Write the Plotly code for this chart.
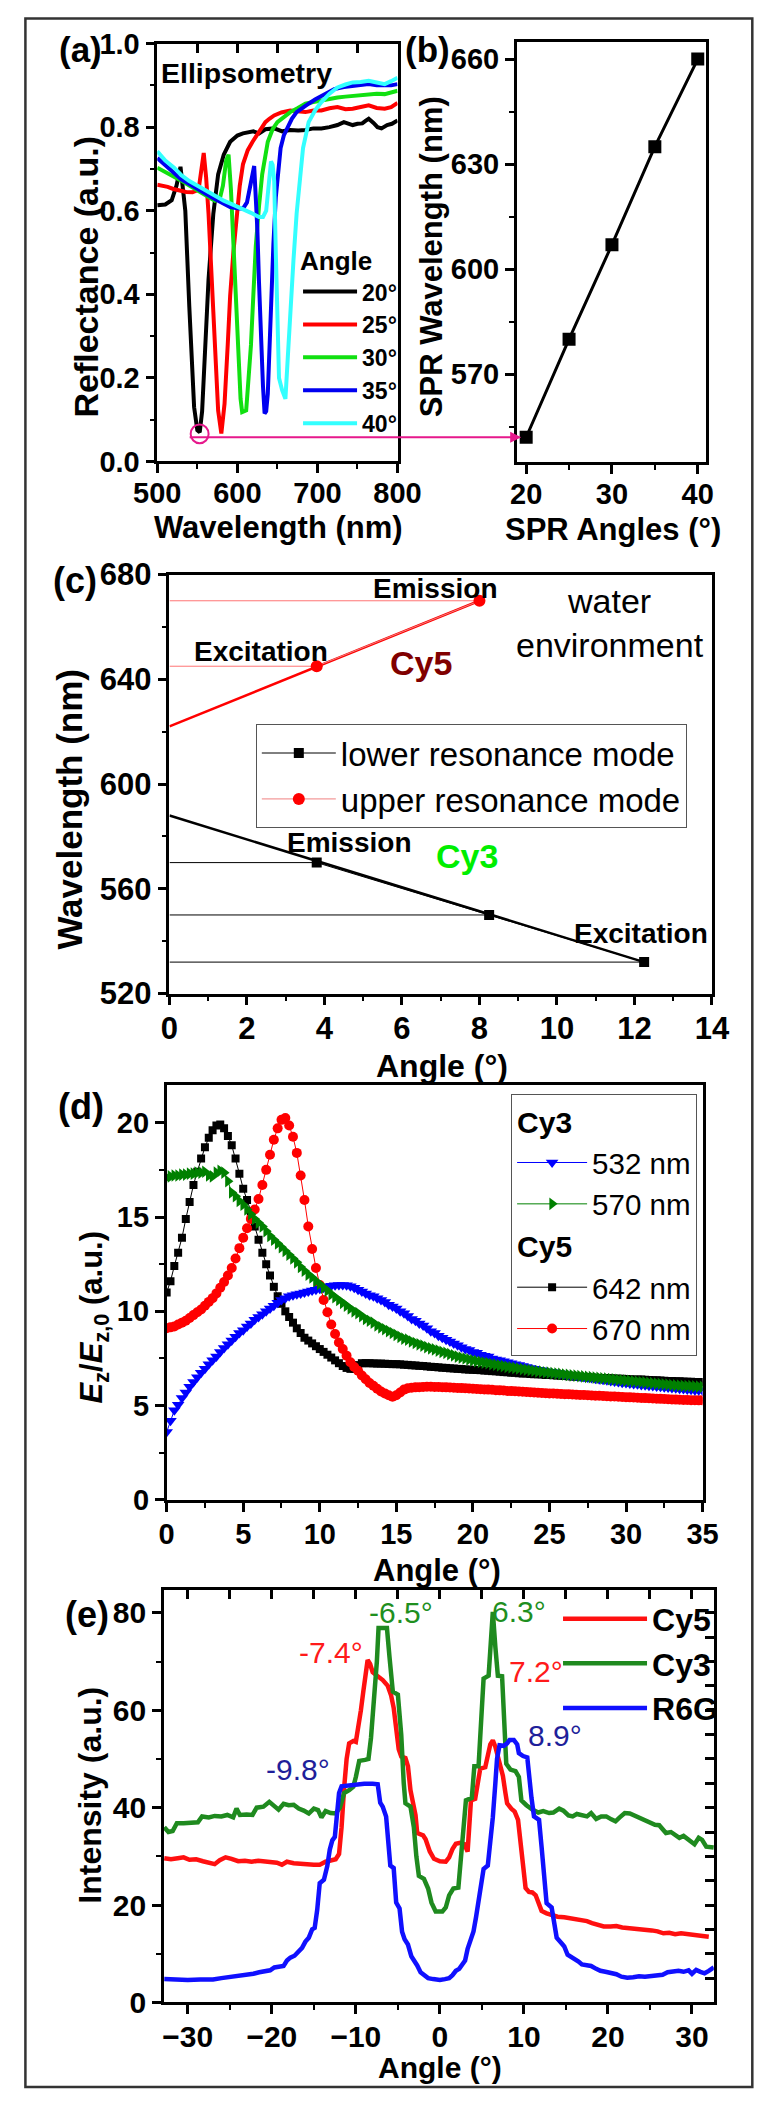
import plotly.graph_objects as go

W, H = 781, 2108
FONT = "Liberation Sans, Arial, Helvetica, sans-serif"

# ---------------- (a) Ellipsometry reflectance spectra ----------------
A_LABELS = ["20°", "25°", "30°", "35°", "40°"]
A_WL_20 = [500, 510, 518, 524, 529, 532, 535, 540, 546, 550, 553, 556, 559, 564, 570, 576, 583, 591, 600, 607,
           620, 627, 635, 646, 656, 666, 676, 685, 695, 705, 715, 725, 733, 740, 744, 750, 756, 760, 764, 770,
           775, 780, 787, 793, 800]
A_R_20 = [0.613, 0.615, 0.625, 0.66, 0.705, 0.66, 0.6, 0.37, 0.13, 0.075, 0.07, 0.12, 0.25, 0.436, 0.593, 0.687,
          0.734, 0.765, 0.78, 0.785, 0.79, 0.785, 0.795, 0.797, 0.79, 0.793, 0.792, 0.793, 0.797, 0.797, 0.8,
          0.805, 0.812, 0.806, 0.805, 0.808, 0.809, 0.815, 0.82, 0.81, 0.8, 0.797, 0.805, 0.808, 0.816]
A_WL_25 = [500, 507, 513, 520, 529, 536, 544, 549, 552, 555, 558, 561, 564, 570, 576, 580, 584, 588, 591, 595,
           599, 603, 607, 613, 619, 627, 635, 640, 646, 655, 666, 675, 685, 695, 705, 715, 725, 735, 744, 754,
           764, 774, 784, 792, 800]
A_R_25 = [0.662, 0.66, 0.657, 0.652, 0.648, 0.645, 0.644, 0.648, 0.656, 0.7, 0.738, 0.68, 0.593, 0.358, 0.122,
          0.067, 0.138, 0.28, 0.397, 0.5, 0.593, 0.66, 0.711, 0.745, 0.765, 0.79, 0.812, 0.82, 0.828, 0.835, 0.84,
          0.838, 0.836, 0.84, 0.84, 0.845, 0.848, 0.843, 0.844, 0.848, 0.852, 0.846, 0.844, 0.848, 0.858]
A_WL_30 = [500, 510, 521, 530, 540, 550, 560, 566, 572, 578, 582, 586, 589, 592, 595, 598, 601, 604, 606, 611,
           614, 617, 620, 623, 627, 631, 638, 644, 650, 658, 666, 675, 685, 695, 705, 715, 725, 735, 744, 754,
           764, 774, 784, 792, 800]
A_R_30 = [0.703, 0.693, 0.683, 0.672, 0.66, 0.648, 0.636, 0.63, 0.624, 0.628, 0.66, 0.72, 0.734, 0.65, 0.515,
          0.4, 0.279, 0.15, 0.118, 0.122, 0.2, 0.279, 0.4, 0.515, 0.61, 0.687, 0.765, 0.795, 0.812, 0.825, 0.836,
          0.845, 0.856, 0.86, 0.864, 0.868, 0.871, 0.873, 0.875, 0.877, 0.879, 0.88, 0.879, 0.882, 0.887]
A_WL_35 = [500, 510, 521, 530, 540, 550, 560, 568, 576, 584, 591, 600, 607, 612, 615, 618, 621, 623, 625, 627,
           629, 632, 634, 636, 638, 640, 642, 645, 648, 651, 654, 658, 662, 668, 674, 682, 689, 697, 705, 713,
           721, 733, 744, 754, 764, 774, 784, 792, 800]
A_R_35 = [0.726, 0.71, 0.691, 0.675, 0.664, 0.652, 0.64, 0.632, 0.624, 0.615, 0.609, 0.606, 0.605, 0.62, 0.648,
          0.68, 0.707, 0.63, 0.554, 0.43, 0.318, 0.18, 0.115, 0.12, 0.162, 0.28, 0.397, 0.52, 0.632, 0.7, 0.75,
          0.78, 0.797, 0.82, 0.836, 0.848, 0.856, 0.866, 0.875, 0.884, 0.891, 0.896, 0.899, 0.901, 0.903, 0.9,
          0.9, 0.9, 0.903]
A_WL_40 = [500, 510, 521, 530, 540, 550, 560, 570, 583, 595, 607, 617, 627, 632, 636, 639, 642, 644, 646, 648,
           650, 652, 656, 660, 663, 666, 670, 674, 678, 682, 686, 689, 697, 705, 715, 725, 735, 744, 754, 764,
           774, 784, 792, 800]
A_R_40 = [0.742, 0.72, 0.703, 0.685, 0.671, 0.66, 0.648, 0.636, 0.624, 0.614, 0.605, 0.595, 0.585, 0.585, 0.6,
          0.66, 0.718, 0.71, 0.671, 0.5, 0.3, 0.2, 0.17, 0.15, 0.25, 0.358, 0.48, 0.593, 0.68, 0.75, 0.785, 0.812,
          0.84, 0.86, 0.88, 0.895, 0.902, 0.907, 0.908, 0.911, 0.907, 0.903, 0.91, 0.918]
A_WL = [A_WL_20, A_WL_25, A_WL_30, A_WL_35, A_WL_40]
A_R = [A_R_20, A_R_25, A_R_30, A_R_35, A_R_40]
A_COLORS = ["#000000", "#ff0000", "#11e011", "#0000f0", "#33ffff"]
A_SPR_MIN = (552.9, 0.066)  # circled 20° resonance minimum

# ---------------- (b) SPR wavelength vs angle ----------------
B_ANGLE = [20, 25, 30, 35, 40]
B_WL = [552, 580, 607, 635, 660]

# ---------------- (c) resonance modes in water ----------------
C_LOWER_ANGLE = [3.8, 8.25, 12.25]
C_LOWER_WL = [570, 550, 532]
C_UPPER_ANGLE = [3.8, 8.0]
C_UPPER_WL = [645, 670]
C_LOWER_FIT_ANGLE = [0, 12.25]
C_LOWER_FIT_WL = [588, 532]
C_UPPER_FIT_ANGLE = [0, 8.0]
C_UPPER_FIT_WL = [622, 670]

# ---------------- (d) field enhancement Ez/Ez0 vs angle (0.25° grid) ----------------
D_EZ_642 = [11.0, 11.6, 12.4, 13.1, 13.9, 14.9, 15.8, 16.7, 17.4, 18.1, 18.7, 19.2, 19.6, 19.85, 19.9, 19.7,
            19.3, 18.8, 18.1, 17.3, 16.5, 15.9, 15.3, 14.5, 13.8, 13.1, 12.5, 11.9, 11.3, 10.8, 10.4, 10.0,
            9.7, 9.4, 9.1, 8.85, 8.6, 8.45, 8.3, 8.15, 8.0, 7.85, 7.7, 7.55, 7.4, 7.25, 7.1, 7.0,
            6.95, 6.95, 7.15, 7.25, 7.25, 7.25, 7.24, 7.23, 7.23, 7.22, 7.21, 7.2, 7.2, 7.19, 7.17, 7.16,
            7.14, 7.13, 7.11, 7.1, 7.08, 7.06, 7.05, 7.03, 7.01, 7.0, 6.98, 6.97, 6.95, 6.94, 6.92, 6.91,
            6.9, 6.89, 6.88, 6.86, 6.85, 6.83, 6.82, 6.8, 6.78, 6.77, 6.75, 6.74, 6.72, 6.71, 6.7, 6.68,
            6.67, 6.66, 6.65, 6.63, 6.62, 6.61, 6.6, 6.58, 6.57, 6.56, 6.55, 6.53, 6.52, 6.51, 6.5, 6.49,
            6.48, 6.47, 6.46, 6.46, 6.45, 6.44, 6.43, 6.42, 6.41, 6.4, 6.39, 6.39, 6.38, 6.37, 6.36, 6.35,
            6.34, 6.33, 6.32, 6.31, 6.3, 6.29, 6.29, 6.28, 6.27, 6.27, 6.26, 6.26, 6.25]
D_EZ_670 = [9.1, 9.15, 9.2, 9.3, 9.4, 9.5, 9.65, 9.8, 9.95, 10.1, 10.3, 10.5, 10.7, 10.95, 11.25, 11.55,
            11.9, 12.3, 12.8, 13.35, 13.9, 14.4, 14.9, 15.4, 15.95, 16.7, 17.5, 18.3, 19.1, 19.7, 20.15, 20.25,
            19.85, 19.25, 18.4, 17.2, 15.9, 14.5, 13.3, 12.3, 11.4, 10.6, 9.95, 9.3, 8.8, 8.35, 8.0, 7.65,
            7.3, 7.05, 6.85, 6.6, 6.4, 6.2, 6.05, 5.9, 5.75, 5.65, 5.55, 5.47, 5.55, 5.7, 5.85, 5.92,
            5.95, 5.97, 5.98, 5.99, 6.0, 6.0, 5.99, 5.99, 5.98, 5.97, 5.96, 5.95, 5.94, 5.93, 5.92, 5.91,
            5.9, 5.88, 5.87, 5.86, 5.85, 5.84, 5.82, 5.81, 5.8, 5.78, 5.77, 5.76, 5.75, 5.74, 5.72, 5.71,
            5.7, 5.69, 5.67, 5.66, 5.65, 5.64, 5.63, 5.62, 5.61, 5.6, 5.59, 5.58, 5.57, 5.56, 5.55, 5.54,
            5.53, 5.52, 5.51, 5.5, 5.49, 5.48, 5.47, 5.46, 5.45, 5.44, 5.43, 5.42, 5.41, 5.4, 5.39, 5.38,
            5.37, 5.36, 5.35, 5.34, 5.33, 5.32, 5.31, 5.3, 5.3, 5.29, 5.29, 5.28, 5.28]
D_EZ_532 = [3.6, 4.2, 4.75, 5.05, 5.4, 5.7, 6.0, 6.25, 6.5, 6.75, 6.95, 7.2, 7.4, 7.6, 7.85, 8.05,
            8.25, 8.45, 8.65, 8.85, 9.0, 9.2, 9.35, 9.55, 9.7, 9.85, 10.0, 10.15, 10.3, 10.45, 10.6, 10.7,
            10.8, 10.85, 10.9, 10.95, 11.0, 11.05, 11.1, 11.15, 11.2, 11.25, 11.3, 11.35, 11.38, 11.4, 11.4, 11.38,
            11.33, 11.25, 11.15, 11.05, 10.95, 10.85, 10.8, 10.7, 10.6, 10.5, 10.35, 10.25, 10.15, 10.0, 9.9, 9.75,
            9.6, 9.5, 9.35, 9.25, 9.1, 8.95, 8.85, 8.7, 8.6, 8.5, 8.4, 8.3, 8.2, 8.1, 8.0, 7.95,
            7.85, 7.8, 7.7, 7.65, 7.6, 7.5, 7.45, 7.4, 7.35, 7.3, 7.25, 7.2, 7.15, 7.1, 7.05, 7.0,
            6.95, 6.9, 6.87, 6.83, 6.8, 6.77, 6.74, 6.7, 6.67, 6.64, 6.61, 6.58, 6.55, 6.52, 6.49, 6.46,
            6.43, 6.4, 6.37, 6.34, 6.31, 6.28, 6.25, 6.22, 6.2, 6.18, 6.15, 6.13, 6.1, 6.08, 6.06, 6.04,
            6.02, 6.0, 5.98, 5.96, 5.94, 5.92, 5.9, 5.88, 5.86, 5.84, 5.82, 5.81, 5.8]
D_EZ_570 = [17.1, 17.15, 17.2, 17.2, 17.25, 17.25, 17.3, 17.3, 17.35, 17.35, 17.4, 17.2, 17.15, 17.35, 17.45, 17.35,
            16.9, 16.3, 16.1, 15.85, 15.65, 15.4, 15.15, 14.9, 14.7, 14.5, 14.25, 14.0, 13.8, 13.6, 13.4, 13.2,
            13.0, 12.8, 12.6, 12.35, 12.15, 11.95, 11.8, 11.6, 11.45, 11.25, 11.1, 10.9, 10.75, 10.6, 10.45, 10.3,
            10.15, 10.0, 9.9, 9.75, 9.6, 9.5, 9.4, 9.25, 9.15, 9.05, 8.95, 8.85, 8.75, 8.65, 8.55, 8.5,
            8.4, 8.32, 8.25, 8.18, 8.1, 8.04, 7.98, 7.92, 7.85, 7.8, 7.73, 7.67, 7.6, 7.55, 7.5, 7.45,
            7.4, 7.36, 7.32, 7.28, 7.25, 7.2, 7.17, 7.13, 7.1, 7.06, 7.03, 7.0, 6.97, 6.94, 6.91, 6.88,
            6.85, 6.82, 6.8, 6.77, 6.75, 6.72, 6.7, 6.68, 6.65, 6.63, 6.61, 6.59, 6.57, 6.55, 6.53, 6.51,
            6.49, 6.47, 6.45, 6.43, 6.41, 6.39, 6.37, 6.35, 6.33, 6.31, 6.29, 6.27, 6.25, 6.23, 6.21, 6.19,
            6.17, 6.15, 6.13, 6.11, 6.09, 6.07, 6.06, 6.05, 6.04, 6.03, 6.02, 6.01, 6.0]
D_STEP = 0.25  # simulation angle step (deg)

# ---------------- (e) measured fluorescence intensity vs angle ----------------
E_CY5 = [(-32.8, 29.6), (-32.0, 29.4), (-31.2, 29.6), (-30.5, 29.8), (-29.8, 29.3), (-29.0, 29.4), (-28.2, 29.0),
         (-27.4, 28.7), (-26.8, 28.4), (-26.2, 29.2), (-25.5, 29.8), (-24.8, 29.5), (-24.0, 29.0), (-23.2, 29.1),
         (-22.4, 28.9), (-21.6, 29.1), (-20.8, 29.0), (-20.0, 28.9), (-19.4, 28.7), (-18.8, 28.3), (-18.2, 28.9),
         (-17.4, 28.6), (-16.6, 28.4), (-15.8, 28.4), (-15.0, 28.3), (-14.3, 28.3), (-13.6, 28.9), (-13.0, 29.2),
         (-12.4, 29.4), (-12.0, 30.5), (-11.7, 36.0), (-11.4, 44.0), (-11.1, 50.0), (-10.8, 53.2), (-10.3, 53.7),
         (-10.0, 53.5), (-9.7, 56.5), (-9.4, 60.0), (-9.1, 64.0), (-8.8, 68.5), (-8.6, 70.3), (-8.3, 69.5),
         (-8.0, 67.8), (-7.4, 67.0), (-6.8, 66.2), (-6.2, 65.0), (-5.8, 63.0), (-5.5, 60.5), (-5.2, 56.5),
         (-4.9, 52.0), (-4.6, 50.5), (-4.1, 50.2), (-3.8, 48.5), (-3.5, 43.6), (-3.2, 41.0), (-2.9, 38.5),
         (-2.7, 34.8), (-2.0, 34.3), (-1.7, 33.5), (-1.2, 31.0), (-0.7, 29.5), (0.0, 29.0), (0.7, 28.9),
         (1.1, 29.8), (1.5, 31.5), (1.9, 32.6), (2.4, 32.8), (2.9, 32.5), (3.3, 31.0), (3.5, 35.5), (3.7, 41.5),
         (4.2, 41.8), (4.5, 45.0), (4.8, 48.0), (5.4, 48.3), (5.7, 51.0), (6.0, 53.0), (6.3, 53.8), (6.6, 52.5),
         (6.9, 50.5), (7.2, 48.5), (7.5, 46.5), (7.8, 43.0), (8.0, 40.9), (8.5, 39.8), (8.9, 39.2), (9.3, 37.5),
         (9.6, 33.0), (9.9, 27.5), (10.2, 23.5), (10.6, 22.7), (11.0, 22.6), (11.4, 22.0), (11.8, 20.0),
         (12.1, 18.8), (12.7, 18.3), (13.3, 18.0), (14.0, 17.6), (14.8, 17.5), (15.5, 17.3), (16.2, 17.0),
         (16.9, 16.9), (17.5, 16.7), (18.1, 16.3), (18.8, 16.0), (19.5, 15.6), (20.3, 15.6), (21.0, 15.7),
         (21.7, 15.4), (22.4, 15.3), (23.1, 15.3), (23.8, 15.2), (24.5, 14.9), (25.2, 14.8), (25.9, 14.6),
         (26.6, 14.2), (27.3, 14.3), (28.0, 14.0), (28.7, 14.2), (29.4, 14.0), (30.1, 13.9), (30.8, 13.8),
         (31.5, 13.6), (32.0, 13.5)]
E_CY3 = [(-32.8, 36.0), (-32.3, 35.0), (-31.8, 35.2), (-31.3, 36.8), (-30.5, 36.8), (-29.5, 36.8), (-28.8, 37.0),
         (-28.3, 38.2), (-27.5, 38.0), (-26.8, 38.3), (-26.0, 38.2), (-25.3, 38.5), (-24.6, 38.0), (-24.2, 39.8),
         (-23.8, 38.5), (-23.0, 38.6), (-22.3, 38.5), (-21.8, 40.0), (-21.0, 40.2), (-20.3, 41.2), (-19.8, 40.6),
         (-19.2, 39.6), (-18.6, 40.8), (-18.0, 40.5), (-17.4, 40.6), (-16.8, 39.8), (-16.2, 39.4), (-15.6, 38.8),
         (-15.0, 39.8), (-14.5, 39.5), (-14.1, 38.0), (-13.6, 39.3), (-13.0, 38.9), (-12.4, 38.8), (-11.9, 40.0),
         (-11.4, 43.0), (-10.8, 43.6), (-10.3, 44.3), (-10.0, 46.3), (-9.6, 49.6), (-8.9, 49.8), (-8.5, 50.0),
         (-8.2, 54.3), (-7.9, 60.5), (-7.5, 70.0), (-7.3, 76.9), (-6.8, 77.0), (-6.3, 76.9), (-6.0, 71.0),
         (-5.6, 63.8), (-5.0, 63.2), (-4.6, 55.0), (-4.3, 45.0), (-4.1, 40.9), (-3.5, 40.2), (-3.1, 36.0),
         (-2.8, 30.0), (-2.5, 26.0), (-1.9, 25.4), (-1.4, 23.4), (-1.0, 20.5), (-0.5, 18.7), (0.3, 18.7),
         (0.7, 19.5), (1.1, 22.0), (1.6, 23.4), (2.2, 23.6), (2.5, 30.0), (2.8, 34.5), (3.1, 41.5), (3.8, 42.0),
         (4.1, 48.5), (4.6, 48.5), (4.9, 58.0), (5.2, 66.5), (5.8, 67.1), (6.0, 73.0), (6.3, 80.2), (6.6, 73.0),
         (6.9, 67.1), (7.4, 67.0), (7.7, 58.0), (7.9, 49.0), (8.4, 47.8), (9.0, 47.5), (9.4, 46.3), (9.7, 41.5),
         (10.3, 40.5), (11.0, 39.6), (11.7, 39.0), (12.3, 39.3), (13.0, 38.9), (13.5, 39.0), (14.2, 39.8),
         (14.7, 39.4), (15.3, 38.4), (15.8, 38.2), (16.3, 38.7), (16.9, 38.5), (17.5, 38.2), (18.0, 38.9),
         (18.6, 37.7), (19.2, 38.2), (19.8, 38.2), (20.4, 37.6), (20.9, 37.2), (21.4, 38.0), (22.0, 38.9),
         (22.6, 38.8), (23.2, 38.3), (23.8, 38.0), (24.4, 37.5), (25.0, 36.9), (25.6, 36.5), (26.1, 36.4),
         (26.6, 35.5), (26.9, 34.8), (27.5, 35.0), (28.0, 34.5), (28.5, 33.8), (29.0, 34.2), (29.5, 33.6),
         (30.0, 33.0), (30.3, 32.5), (30.8, 33.8), (31.2, 33.4), (31.7, 32.0), (32.1, 32.0), (32.6, 31.8)]
E_R6G = [(-32.8, 4.8), (-31.5, 4.7), (-30.0, 4.6), (-28.5, 4.7), (-27.0, 4.7), (-26.0, 5.0), (-25.0, 5.2),
         (-24.0, 5.4), (-23.0, 5.6), (-22.2, 5.9), (-21.5, 6.2), (-20.8, 6.5), (-20.2, 6.6), (-19.7, 7.2),
         (-19.0, 7.3), (-18.6, 7.5), (-18.2, 8.6), (-17.8, 9.2), (-17.3, 9.6), (-16.9, 10.2), (-16.4, 11.2),
         (-16.0, 12.5), (-15.6, 13.3), (-15.2, 15.0), (-14.9, 15.3), (-14.6, 19.0), (-14.3, 24.5), (-13.8, 25.2),
         (-13.4, 28.0), (-13.1, 31.4), (-12.8, 33.3), (-12.5, 34.0), (-12.3, 38.2), (-12.0, 43.0), (-11.7, 44.4),
         (-10.8, 44.6), (-10.0, 44.8), (-9.0, 44.9), (-8.0, 44.9), (-7.4, 44.8), (-7.1, 41.0), (-6.8, 40.2),
         (-6.4, 38.2), (-6.1, 33.0), (-5.9, 28.1), (-5.5, 27.6), (-5.2, 20.5), (-4.8, 19.3), (-4.5, 14.5),
         (-4.2, 13.0), (-3.8, 11.9), (-3.4, 9.5), (-3.0, 8.6), (-2.7, 7.6), (-2.3, 6.2), (-1.9, 5.7), (-1.4, 5.0),
         (-0.8, 4.8), (0.0, 4.6), (0.6, 4.8), (1.1, 5.0), (1.5, 5.6), (1.9, 6.5), (2.3, 6.9), (2.6, 7.8),
         (3.0, 8.6), (3.3, 11.0), (3.6, 12.3), (4.0, 14.6), (4.3, 17.5), (4.5, 20.0), (4.8, 23.0), (5.2, 27.4),
         (5.7, 28.1), (6.0, 32.5), (6.3, 38.0), (6.6, 45.0), (6.8, 50.0), (7.1, 52.8), (7.6, 52.7), (8.0, 53.2),
         (8.3, 53.9), (8.8, 53.9), (9.2, 53.0), (9.4, 51.2), (9.9, 50.6), (10.4, 50.3), (10.6, 46.0),
         (10.9, 42.0), (11.2, 38.2), (11.8, 37.5), (12.1, 32.0), (12.4, 26.0), (12.7, 20.4), (13.3, 19.5),
         (13.6, 16.0), (13.9, 13.3), (14.4, 12.3), (14.8, 11.5), (15.2, 9.8), (15.7, 9.3), (16.1, 8.9),
         (16.5, 8.4), (16.9, 7.8), (17.5, 7.6), (18.0, 7.5), (18.6, 6.9), (19.1, 6.5), (19.7, 6.3), (20.4, 6.0),
         (21.0, 5.8), (21.6, 5.3), (22.3, 5.1), (23.0, 5.2), (23.7, 5.4), (24.4, 5.3), (25.1, 5.5), (25.8, 5.5),
         (26.5, 5.7), (27.1, 6.2), (27.7, 6.4), (28.4, 6.5), (29.0, 6.3), (29.6, 6.6), (30.0, 5.9), (30.5, 6.7),
         (31.0, 6.3), (31.5, 6.0), (32.0, 6.5), (32.6, 7.2)]
E_PEAKS = [("-7.4°", -12.96, 71.9, "#ff1a1a"), ("-6.5°", -4.58, 80.0, "#1f8f1f"), ("6.3°", 9.39, 80.2, "#1f8f1f"),
           ("7.2°", 11.4, 67.9, "#ff1a1a"), ("-9.8°", -16.87, 47.9, "#1f1f9a"), ("8.9°", 13.74, 54.9, "#1f1f9a")]


def PX(x):
    return x / W


def PY(y):
    return 1 - y / H


def xdom(l, r):
    return [l / W, r / W]


def ydom(t, b):
    return [1 - b / H, 1 - t / H]


fig = go.Figure()

# ---- (a)
for wl, r, lab, col in zip(A_WL, A_R, A_LABELS, A_COLORS):
    fig.add_trace(go.Scatter(x=wl, y=r, mode="lines", name=lab, line=dict(color=col, width=4),
                             xaxis="x", yaxis="y", legend="legend"))
fig.add_trace(go.Scatter(x=[], y=[], xaxis="x6", yaxis="y", showlegend=False, hoverinfo="skip"))

# ---- (b)
fig.add_trace(go.Scatter(x=B_ANGLE, y=B_WL, mode="lines+markers", showlegend=False,
                         line=dict(color="black", width=3), marker=dict(symbol="square", size=13, color="black"),
                         xaxis="x2", yaxis="y2"))


# ---- (c)
def guides(xs, ys, x0):
    gx, gy = [], []
    for a, w in zip(xs, ys):
        gx += [x0, a, None]
        gy += [w, w, None]
    return gx, gy


gx, gy = guides(C_LOWER_ANGLE, C_LOWER_WL, 0)
fig.add_trace(go.Scatter(x=gx, y=gy, mode="lines", line=dict(color="black", width=1), showlegend=False,
                         xaxis="x3", yaxis="y3"))
gx, gy = guides(C_UPPER_ANGLE, C_UPPER_WL, 0)
fig.add_trace(go.Scatter(x=gx, y=gy, mode="lines", line=dict(color="rgba(255,0,0,0.55)", width=1),
                         showlegend=False, xaxis="x3", yaxis="y3"))
fig.add_trace(go.Scatter(x=C_LOWER_FIT_ANGLE, y=C_LOWER_FIT_WL, mode="lines", line=dict(color="black", width=2.5),
                         showlegend=False, xaxis="x3", yaxis="y3"))
fig.add_trace(go.Scatter(x=C_UPPER_FIT_ANGLE, y=C_UPPER_FIT_WL, mode="lines", line=dict(color="#ff0000", width=2.5),
                         showlegend=False, xaxis="x3", yaxis="y3"))
fig.add_trace(go.Scatter(x=C_LOWER_ANGLE, y=C_LOWER_WL, mode="lines+markers", name="lower resonance mode",
                         line=dict(color="black", width=1), marker=dict(symbol="square", size=10, color="black"),
                         xaxis="x3", yaxis="y3", legend="legend2"))
fig.add_trace(go.Scatter(x=C_UPPER_ANGLE, y=C_UPPER_WL, mode="lines+markers", name="upper resonance mode",
                         line=dict(color="#f08080", width=1), marker=dict(symbol="circle", size=12, color="#ff0000"),
                         xaxis="x3", yaxis="y3", legend="legend2"))

# ---- (d)
d_series = [
    (D_EZ_642, "642 nm", "black", "square", 8, "Cy5", 3),
    (D_EZ_670, "670 nm", "#ff0000", "circle", 10, "Cy5", 4),
    (D_EZ_532, "532 nm", "#0000ff", "triangle-down", 11, "Cy3", 1),
    (D_EZ_570, "570 nm", "#008000", "triangle-right", 11, "Cy3", 2),
]
for ys, name, col, sym, size, grp, rank in d_series:
    xs = [D_STEP * i for i in range(len(ys))]
    fig.add_trace(go.Scatter(x=xs, y=ys, mode="lines+markers", name=name, legendgroup=grp, legendrank=rank,
                             legendgrouptitle=dict(text=grp, font=dict(family=FONT, size=30, weight="bold",
                                                                         color="black")),
                             line=dict(color=col, width=1), marker=dict(symbol=sym, size=size, color=col),
                             xaxis="x4", yaxis="y4", legend="legend3"))

# ---- (e)
for pts, name, col in [(E_CY5, "Cy5", "#ff1010"), (E_CY3, "Cy3", "#1f8a1f"), (E_R6G, "R6G", "#1010ff")]:
    fig.add_trace(go.Scatter(x=[p[0] for p in pts], y=[p[1] for p in pts], mode="lines", name=name,
                             line=dict(color=col, width=4.5), xaxis="x5", yaxis="y5", legend="legend4"))
fig.add_trace(go.Scatter(x=[], y=[], xaxis="x7", yaxis="y5", showlegend=False, hoverinfo="skip"))
fig.add_trace(go.Scatter(x=[], y=[], xaxis="x5", yaxis="y7", showlegend=False, hoverinfo="skip"))


def ax(domain, rng, dtick, mdtick, anchor, size, fmt=None, standoff=0):
    d = dict(domain=domain, range=rng, anchor=anchor, dtick=dtick, tick0=0, showline=True, linewidth=2.5,
             linecolor="black", mirror=True, ticks="outside", ticklen=9, tickwidth=2.5, tickcolor="black",
             showgrid=False, zeroline=False, ticklabelstandoff=standoff,
             tickfont=dict(family=FONT, size=size, color="black", weight="bold"),
             minor=dict(dtick=mdtick, tick0=0, ticks="outside", ticklen=5, tickwidth=2, tickcolor="black",
                        showgrid=False))
    if fmt:
        d["tickformat"] = fmt
    return d


def inner(rng, dtick, anchor, overlay, side):
    return dict(range=rng, overlaying=overlay, side=side, anchor=anchor, dtick=dtick, tick0=0, ticks="inside",
                ticklen=9, tickwidth=2.5, tickcolor="black", showticklabels=False, showline=False,
                showgrid=False, zeroline=False)


A_X = [500, 800]
E_X = [-32.85, 32.6]
E_Y = [0, 84.6]
layout = dict(
    width=W, height=H, margin=dict(l=0, r=0, t=0, b=0), paper_bgcolor="white", plot_bgcolor="white",
    font=dict(family=FONT, color="black"),
    xaxis=ax(xdom(142, 398), A_X, 100, 50, "y", 29, standoff=-5),
    yaxis=ax(ydom(27, 452), [0, 1.0], 0.2, 0.1, "x", 29, ".1f"),
    xaxis6=inner(A_X, 50, "y", "x", "top"),
    xaxis2=ax(xdom(525, 727), [18.9, 41.0], 10, 5, "y2", 29, standoff=-5),
    yaxis2=ax(ydom(25, 453), [544.8, 665.0], 30, 15, "x2", 29),
    xaxis3=ax(xdom(155, 733), [0, 14], 2, 1, "y3", 31, standoff=-3),
    yaxis3=ax(ydom(567, 993), [520, 680], 40, 20, "x3", 31),
    xaxis4=ax(xdom(152, 723), [0, 35], 5, 2.5, "y4", 29, standoff=-3),
    yaxis4=ax(ydom(1086, 1508), [0, 22], 5, 2.5, "x4", 29),
    xaxis5=ax(xdom(149, 735), E_X, 10, 5, "y5", 30, standoff=-3),
    yaxis5=ax(ydom(1600, 2019), E_Y, 20, 10, "x5", 30),
    xaxis7=inner(E_X, 5, "y5", "x5", "top"),
    yaxis7=inner(E_Y, 5, "x5", "y5", "right"),
    legend=dict(x=PX(292), y=PY(223), xanchor="left", yanchor="top", bgcolor="rgba(0,0,0,0)", borderwidth=0,
                font=dict(family=FONT, size=23, weight="bold", color="black"), itemwidth=54, tracegroupgap=0,
                title=dict(text="Angle", font=dict(family=FONT, size=26, weight="bold", color="black"))),
    legend2=dict(x=PX(247), y=PY(719), xanchor="left", yanchor="top", bgcolor="white", bordercolor="#555",
                 borderwidth=1, font=dict(family=FONT, size=33, color="black"), itemwidth=74),
    legend3=dict(x=PX(519), y=PY(1095), xanchor="left", yanchor="top", bgcolor="white", bordercolor="#555",
                 borderwidth=1, font=dict(family=FONT, size=29.5, color="black"), itemwidth=70,
                 traceorder="grouped", tracegroupgap=0),
    legend4=dict(x=PX(569), y=PY(1601), xanchor="left", yanchor="top", bgcolor="rgba(0,0,0,0)", borderwidth=0,
                 font=dict(family=FONT, size=32, weight="bold", color="black"), itemwidth=84, tracegroupgap=0),
)
fig.update_layout(**layout)

ann = []


def paper_text(text, x, y, size, bold=True, angle=0, color="black"):
    ann.append(dict(text=text, x=PX(x), y=PY(y), xref="paper", yref="paper", showarrow=False, textangle=angle,
                    xanchor="center", yanchor="middle",
                    font=dict(family=FONT, size=size, color=color, weight="bold" if bold else "normal")))


# panel letters
paper_text("(a)", 60, 33, 35)
paper_text("(b)", 430, 33, 35)
paper_text("(c)", 54, 573, 36)
paper_text("(d)", 61, 1108, 36)
paper_text("(e)", 67, 1624, 36)
# axis titles
paper_text("Reflectance (a.u.)", 66, 264, 34, angle=-90)
paper_text("Wavelength (nm)", 271, 519, 31)
paper_text("SPR Wavelength (nm)", 435, 244, 31, angle=-90)
paper_text("SPR Angles (°)", 628, 521, 31)
paper_text("Wavelength (nm)", 49, 805, 35, angle=-90)
paper_text("Angle (°)", 445, 1067, 32)
paper_text("<i>E</i><sub>z</sub>/<i>E</i><sub>z,0</sub> (a.u.)", 75, 1322, 31, angle=-90)
paper_text("Angle (°)", 440, 1580, 31)
paper_text("Intensity (a.u.)", 70, 1808, 32, angle=-90)
paper_text("Angle (°)", 443, 2085, 30)


def data_text(text, x, y, xr, yr, size, bold=True, color="black"):
    ann.append(dict(text=text, x=x, y=y, xref=xr, yref=yr, showarrow=False, xanchor="center", yanchor="middle",
                    font=dict(family=FONT, size=size, color=color, weight="bold" if bold else "normal")))


data_text("Ellipsometry", 611.8, 0.929, "x", "y", 28.5)
data_text("Emission", 6.84, 674.7, "x3", "y3", 28)
data_text("Excitation", 2.35, 650.7, "x3", "y3", 28)
data_text("Cy5", 6.48, 646.2, "x3", "y3", 34, color="#800000")
data_text("water<br>environment", 11.38, 661.5, "x3", "y3", 34, bold=False)
data_text("Emission", 4.64, 577.5, "x3", "y3", 28)
data_text("Cy3", 7.67, 572.6, "x3", "y3", 34, color="#00ee00")
data_text("Excitation", 12.16, 542.9, "x3", "y3", 28)
for txt, x, y, col in E_PEAKS:
    data_text(txt, x, y, "x5", "y5", 30, bold=False, color=col)

# magenta arrow from the circled 20° minimum in (a) to the 20° point in (b)
ann.append(dict(x=B_ANGLE[0], y=B_WL[0], xref="x2", yref="y2", ax=-338, ay=0, axref="pixel", ayref="pixel",
                showarrow=True, arrowhead=2, arrowsize=1.1, arrowwidth=2, arrowcolor="#e6198c", standoff=5,
                text=""))
fig.update_layout(annotations=ann)

shapes = [
    dict(type="circle", xref="x", yref="y", x0=A_SPR_MIN[0] - 11.2, x1=A_SPR_MIN[0] + 11.2,
         y0=A_SPR_MIN[1] - 0.0224, y1=A_SPR_MIN[1] + 0.0224, line=dict(color="#e6198c", width=2)),
    dict(type="rect", xref="paper", yref="paper", x0=PX(1.5), x1=PX(776), y0=PY(2105), y1=PY(1.5),
         line=dict(color="#333333", width=2.5)),
]
fig.update_layout(shapes=shapes)

fig.write_html("out.html", config={"displayModeBar": False},
               post_script="document.body.style.margin='0';document.body.style.overflow='hidden';")
